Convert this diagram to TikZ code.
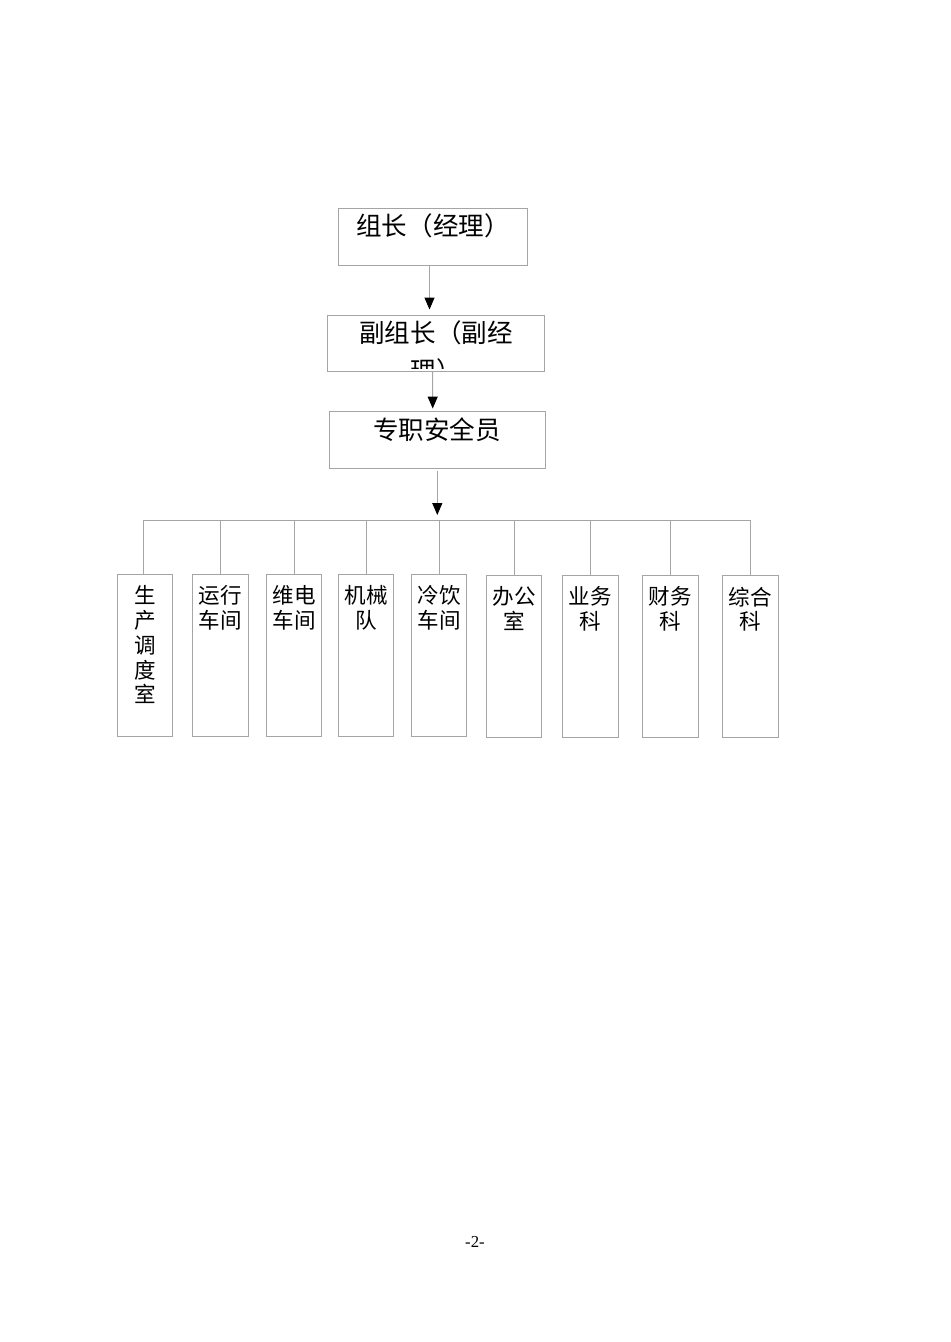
\documentclass[tikz,border=0pt]{standalone}
\usepackage{fontspec}
\setmainfont{Liberation Serif}
\newfontfamily\cjk{Noto Sans CJK SC}
\usetikzlibrary{arrows.meta}
\newdimen\pxu \pxu=0.6266pt
\definecolor{linegray}{RGB}{165,165,165}
\begin{document}
\begin{tikzpicture}[x=0.6266pt,y=-0.6266pt,
  topbox/.style={draw=linegray, line width=0.6pt, inner sep=0pt, minimum height=57\pxu},
  unitbox/.style={draw=linegray, line width=0.6pt, inner sep=0pt, minimum width=55.5\pxu, minimum height=162\pxu},
  conn/.style={draw=linegray, line width=0.6pt},
  arr/.style={conn, -{Triangle[width=6.3pt, length=7.5pt, color=black]}},
  toptext/.style={inner sep=0pt, font=\cjk\fontsize{16pt}{23.8pt}\selectfont, align=center},
  unittext/.style={inner sep=0pt, anchor=north, font=\cjk\fontsize{13.5pt}{15.5pt}\selectfont, align=center},
  pagenum/.style={inner sep=0pt, font=\fontsize{10.5pt}{12pt}\selectfont}]
\useasboundingbox (0,0) rectangle (950,1342);
% top chain
\node[topbox, minimum width=189\pxu] (b1) at (432.5,236.5) {};
\node[topbox, minimum width=217\pxu, minimum height=56\pxu] (b2) at (435.5,343) {};
\node[topbox, minimum width=216\pxu] (b3) at (437,439.5) {};
\node[toptext] (t1) at (433,226) {组长（经理）};
\begin{scope}
  \clip ([shift={(1,1)}]b2.north west) rectangle ([shift={(-1,-3)}]b2.south east);
  \node[toptext, anchor=north] (t2) at (436,320) {副组长（副经\\理）};
\end{scope}
\node[toptext] (t3) at (437,430) {专职安全员};
\coordinate (bus) at (437,520);
\draw[arr] ([shift={(-3,0)}]b1.south) -- ([shift={(-6,-5)}]b2.north);
\draw[arr] ([shift={(-2.8,0)}]b2.south) -- ([shift={(-4.3,-2)}]b3.north);
\draw[arr] ([shift={(0.3,3)}]b3.south) -- ([shift={(0.3,-5)}]bus);
% units
\node[unitbox] (d1) at (145,655) {};
\node[unitbox] (d2) at (220.5,655) {};
\node[unitbox] (d3) at (294,655) {};
\node[unitbox] (d4) at (366,655) {};
\node[unitbox] (d5) at (439,655) {};
\node[unitbox] (d6) at (514,656) {};
\node[unitbox] (d7) at (590.5,656) {};
\node[unitbox] (d8) at (670.5,656) {};
\node[unitbox] (d9) at (750.5,656) {};
\node[unittext] (u1) at (145,585.5) {生\\产\\调\\度\\室};
\node[unittext] (u2) at (220.5,585.5) {运行\\车间};
\node[unittext] (u3) at (294,585.5) {维电\\车间};
\node[unittext] (u4) at (366,585.5) {机械\\队};
\node[unittext] (u5) at (439,585.5) {冷饮\\车间};
\node[unittext] (u6) at (514,586.5) {办公\\室};
\node[unittext] (u7) at (590.5,586.5) {业务\\科};
\node[unittext] (u8) at (670.5,586.5) {财务\\科};
\node[unittext] (u9) at (750.5,586.5) {综合\\科};
% bus and drops
\draw[conn] ([shift={(-1.5,0)}]d1.north) -- ([shift={(-1.5,0)}]d1.north |- bus) -- (d9.north |- bus) -- (d9.north);
\foreach \d in {d2,d3,d4,d5,d6,d7,d8}{
  \draw[conn] (\d.north) -- (\d.north |- bus);
}
\node[pagenum] (pg) at (475,1242) {-2-};
\end{tikzpicture}
\end{document}
